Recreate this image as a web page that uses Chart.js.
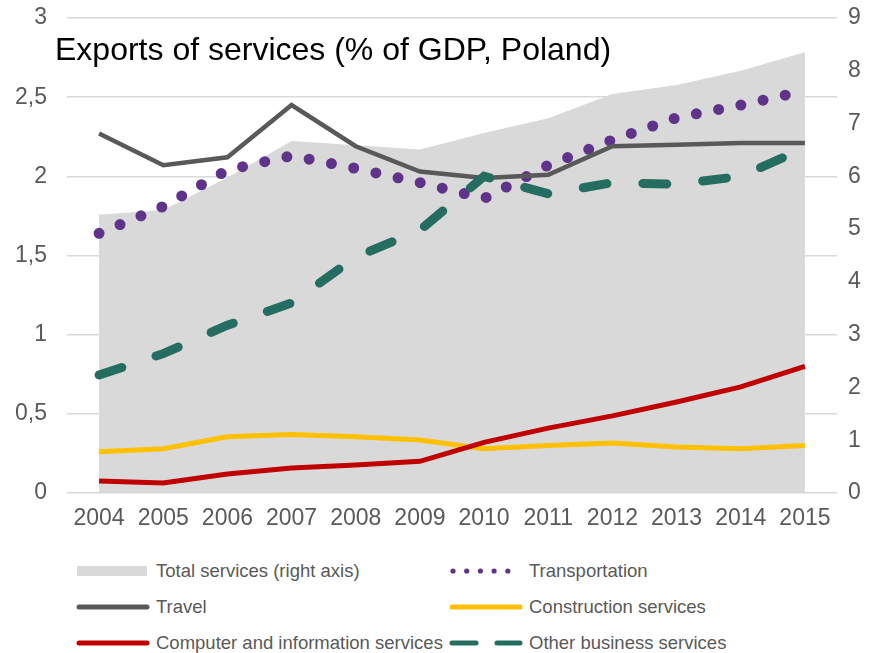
<!DOCTYPE html>
<html>
<head>
<meta charset="utf-8">
<script src="https://cdn.jsdelivr.net/npm/chart.js@4/dist/chart.umd.min.js"></script>
<style>
  body { margin: 0; background: #fff; font-family: 'Liberation Sans', Arial, sans-serif; }
  #wrap { position: relative; width: 872px; height: 653px; }
  #chart { position: absolute; left: 0; top: 0; }
  #title { position: absolute; left: 55px; top: 34px; font-size: 32px; line-height: 31px; color: #000; white-space: nowrap; }
  .item { position: absolute; height: 20px; display: flex; align-items: center; font-size: 18.5px; color: #595959; white-space: nowrap; }
  .item canvas { margin-right: 6px; }
</style>
</head>
<body>
<div id="wrap">
  <canvas id="chart" width="872" height="545"></canvas>
  <div id="title">Exports of services (% of GDP, Poland)</div>
  <div id="legend"></div>
</div>
<script>
const years = ['2004', '2005', '2006', '2007', '2008', '2009', '2010', '2011', '2012', '2013', '2014', '2015'];

// right axis
const totalServices = [5.27, 5.36, 5.98, 6.67, 6.59, 6.51, 6.82, 7.10, 7.56, 7.73, 8.00, 8.35];

// left axis
const transportation = [1.64, 1.81, 2.04, 2.13, 2.05, 1.96, 1.86, 2.07, 2.23, 2.37, 2.45, 2.54];
const travel = [2.27, 2.07, 2.12, 2.45, 2.19, 2.03, 1.99, 2.01, 2.19, 2.20, 2.21, 2.21];
const construction = [0.26, 0.28, 0.355, 0.37, 0.355, 0.335, 0.28, 0.30, 0.315, 0.29, 0.28, 0.30];
const computerInfo = [0.076, 0.063, 0.12, 0.158, 0.177, 0.20, 0.32, 0.41, 0.487, 0.575, 0.67, 0.80];
const otherBusiness = [0.745, 0.88, 1.06, 1.20, 1.49, 1.66, 2.00, 1.89, 1.96, 1.95, 2.00, 2.18];

const leftTicks = ['0', '0,5', '1', '1,5', '2', '2,5', '3'];

const GREY_TEXT = '#595959';
const FONT = "'Liberation Sans', Arial, sans-serif";

const datasets = [
  {
    label: 'Total services (right axis)',
    data: totalServices,
    yAxisID: 'y1',
    fill: 'origin',
    backgroundColor: '#D9D9D9',
    borderWidth: 0,
    order: 10
  },
  {
    label: 'Transportation',
    data: transportation,
    borderColor: '#60338A',
    borderWidth: 11,
    borderDash: [0, 22.7],
    borderCapStyle: 'round',
    order: 3
  },
  {
    label: 'Travel',
    data: travel,
    borderColor: '#595959',
    borderWidth: 4.5,
    order: 2
  },
  {
    label: 'Construction services',
    data: construction,
    borderColor: '#FFC000',
    borderWidth: 5,
    order: 5
  },
  {
    label: 'Computer and information services',
    data: computerInfo,
    borderColor: '#C00000',
    borderWidth: 5,
    order: 4
  },
  {
    label: 'Other business services',
    data: otherBusiness,
    borderColor: '#256D60',
    borderWidth: 9,
    borderDash: [24, 36],
    borderCapStyle: 'round',
    order: 1
  }
];

const chart = new Chart(document.getElementById('chart'), {
  type: 'line',
  data: { labels: years, datasets: datasets },
  options: {
    responsive: false,
    animation: false,
    devicePixelRatio: 1,
    layout: { padding: { top: 18, left: 0, right: 0, bottom: 0 } },
    elements: {
      point: { radius: 0, hoverRadius: 0 },
      line: { tension: 0, fill: false }
    },
    plugins: {
      legend: { display: false },
      title: { display: false },
      tooltip: { enabled: false }
    },
    scales: {
      x: {
        offset: true,
        grid: { display: false, drawTicks: false },
        border: { display: false },
        ticks: { color: GREY_TEXT, font: { family: FONT, size: 23 }, padding: 12, maxRotation: 0 },
        afterFit: (s) => { s.height = 52; }
      },
      y: {
        position: 'left',
        min: 0, max: 3,
        grid: { color: '#D9D9D9', lineWidth: 1.5, drawTicks: false },
        border: { display: false },
        ticks: {
          stepSize: 0.5,
          padding: 20,
          color: GREY_TEXT,
          font: { family: FONT, size: 23 },
          callback: (v, i) => leftTicks[i]
        },
        // tick padding would otherwise push the plot top down
        afterFit: (s) => { s.width = 67; s.paddingTop = 0; s.paddingBottom = 0; }
      },
      y1: {
        position: 'right',
        min: 0, max: 9,
        grid: { display: false, drawTicks: false },
        border: { display: false },
        ticks: { stepSize: 1, padding: 11, color: GREY_TEXT, font: { family: FONT, size: 23 } },
        afterFit: (s) => { s.width = 35; s.paddingTop = 0; s.paddingBottom = 0; }
      }
    }
  }
});

// legend below the chart, two columns
function drawSwatch(ctx, ds) {
  const mid = 7;
  if (ds.fill) {
    ctx.fillStyle = ds.backgroundColor;
    ctx.fillRect(1, mid - 5, 70, 10);
    return;
  }
  ctx.strokeStyle = ds.borderColor;
  ctx.fillStyle = ds.borderColor;
  ctx.lineCap = 'round';
  if (ds.borderDash && ds.borderDash[0] === 0) {
    for (let i = 0; i < 5; i++) {
      ctx.beginPath();
      ctx.arc(4 + i * 13.7, mid, 2.6, 0, Math.PI * 2);
      ctx.fill();
    }
    return;
  }
  ctx.lineWidth = 5;
  ctx.beginPath();
  if (ds.borderDash) {
    ctx.moveTo(3, mid); ctx.lineTo(27, mid);
    ctx.moveTo(48, mid); ctx.lineTo(71, mid);
  } else {
    ctx.moveTo(3, mid); ctx.lineTo(71, mid);
  }
  ctx.stroke();
}

const legendEl = document.getElementById('legend');
const colX = [76, 449];
const rowY = [571, 607, 643];
chart.data.datasets.forEach((ds, i) => {
  const item = document.createElement('div');
  item.className = 'item';
  item.style.left = colX[i % 2] + 'px';
  item.style.top = (rowY[Math.floor(i / 2)] - 10) + 'px';
  const sw = document.createElement('canvas');
  sw.width = 74; sw.height = 14;
  drawSwatch(sw.getContext('2d'), ds);
  const txt = document.createElement('span');
  txt.textContent = ds.label;
  item.appendChild(sw);
  item.appendChild(txt);
  legendEl.appendChild(item);
});
</script>
</body>
</html>
